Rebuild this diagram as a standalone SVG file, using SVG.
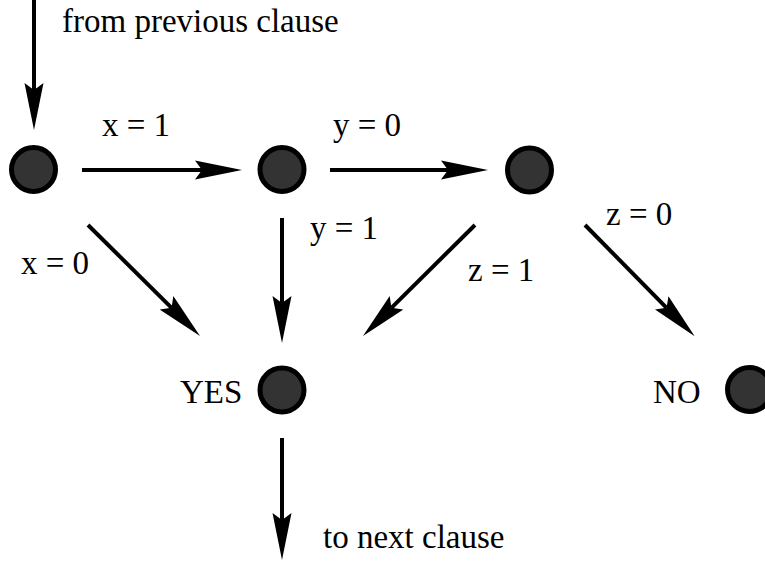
<svg xmlns="http://www.w3.org/2000/svg" width="765" height="562" viewBox="0 0 765 562">
<style>
.node{fill:#333333;stroke:#000000;stroke-width:5}
.edge{stroke:#000000;stroke-width:4;fill:none;marker-end:url(#ah)}
.lbl{font-family:"Liberation Serif","Times New Roman",serif;font-size:33px;fill:#000000}
</style>
<defs>
<marker id="ah" viewBox="0 0 48 20" markerWidth="48" markerHeight="20" markerUnits="userSpaceOnUse" refX="7" refY="10" orient="auto">
<path d="M0,0.5 L47,10 L0,19.5 L7,10 Z" fill="#000000"/>
</marker>
</defs>
<rect width="765" height="562" fill="#ffffff"/>
<g id="connectors">
<line class="edge" x1="34" y1="0" x2="34" y2="90"/>
<line class="edge" x1="82" y1="170" x2="202" y2="170"/>
<line class="edge" x1="330" y1="170" x2="448" y2="170"/>
<line class="edge" x1="88" y1="225" x2="171.6" y2="307.8"/>
<line class="edge" x1="282" y1="218" x2="282" y2="303"/>
<line class="edge" x1="475" y1="225" x2="391.4" y2="307.8"/>
<line class="edge" x1="585" y1="225" x2="666.6" y2="307.8"/>
<line class="edge" x1="282" y1="438" x2="282" y2="520"/>
</g>
<g id="labels">
<text class="lbl" x="62" y="32">from previous clause</text>
<text class="lbl" x="102" y="136">x = 1</text>
<text class="lbl" x="333" y="136">y = 0</text>
<text class="lbl" x="310" y="239">y = 1</text>
<text class="lbl" x="21" y="274">x = 0</text>
<text class="lbl" x="468" y="281">z = 1</text>
<text class="lbl" x="606" y="225">z = 0</text>
<text class="lbl" x="323" y="548">to next clause</text>
</g>
<g id="n1"><circle class="node" cx="33.5" cy="169.5" r="22"/></g>
<g id="n2"><circle class="node" cx="282" cy="169.5" r="22"/></g>
<g id="n3"><circle class="node" cx="529.5" cy="170" r="22"/></g>
<g id="yes"><circle class="node" cx="282" cy="390" r="22"/><text class="lbl" x="180" y="403">YES</text></g>
<g id="no"><circle class="node" cx="749.5" cy="389.5" r="22"/><text class="lbl" x="653" y="403">NO</text></g>
</svg>
